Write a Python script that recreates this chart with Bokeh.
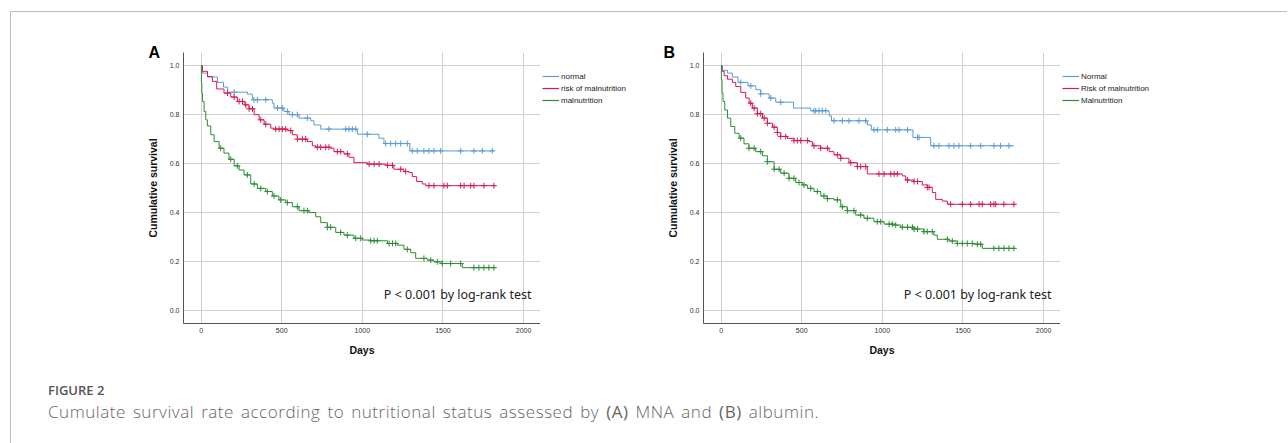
import numpy as np
from bokeh.plotting import figure
from bokeh.models import Legend, LegendItem, Label, Div, FixedTicker, PrintfTickFormatter, Title
from bokeh.layouts import row, column
from bokeh.embed import file_html
from bokeh.resources import INLINE

# ---------------- data ----------------
a_labels = ["normal", "risk of malnutrition", "malnutrition"]
b_labels = ["Normal", "Risk of malnutrition", "Malnutrition"]

# Panel A (MNA)
a_norm_t = [0, 8, 40, 102, 139, 164, 288, 318, 442, 452, 514, 545, 607, 680, 700, 742, 969, 1103, 1134, 1295, 1816]
a_norm_s = [1.0, 0.97, 0.954, 0.932, 0.913, 0.892, 0.884, 0.861, 0.847, 0.827, 0.813, 0.80, 0.786, 0.775, 0.758, 0.741, 0.72, 0.704, 0.682, 0.652, 0.652]
a_norm_c = [205, 328, 349, 401, 474, 504, 535, 566, 597, 659, 793, 897, 917, 938, 959, 1031, 1145, 1176, 1207, 1238,
            1279, 1310, 1341, 1382, 1413, 1444, 1486, 1610, 1692, 1744, 1806]

a_risk_t = [0, 8, 40, 70, 97, 142, 184, 225, 267, 298, 329, 360, 391, 432, 452, 535, 566, 597, 659, 690, 711, 804,
            824, 886, 917, 948, 1031, 1145, 1196, 1258, 1289, 1310, 1337, 1372, 1393, 1826]
a_risk_s = [1.0, 0.977, 0.956, 0.936, 0.905, 0.888, 0.872, 0.854, 0.84, 0.824, 0.80, 0.779, 0.761, 0.745, 0.741, 0.735,
            0.718, 0.70, 0.69, 0.673, 0.667, 0.663, 0.649, 0.64, 0.626, 0.604, 0.598, 0.593, 0.577, 0.568, 0.563, 0.547,
            0.527, 0.517, 0.51, 0.51]
a_risk_c = [164, 205, 236, 257, 277, 298, 319, 370, 401, 463, 484, 504, 525, 556, 597, 628, 649, 721, 742, 773, 793,
            845, 866, 907, 1042, 1073, 1104, 1156, 1187, 1238, 1269, 1413, 1444, 1506, 1527, 1610, 1631, 1672, 1692,
            1754, 1816]

a_mal_t = [0, 2, 4.5, 8.5, 19, 29, 39, 60, 81, 112, 142, 173, 205, 236, 267, 308, 349, 401, 442, 483, 525, 566, 607,
           669, 711, 742, 783, 835, 886, 948, 1000, 1052, 1156, 1218, 1258, 1300, 1331, 1403, 1444, 1496, 1620, 1826]
a_mal_s = [1.0, 0.929, 0.888, 0.854, 0.813, 0.779, 0.754, 0.718, 0.69, 0.663, 0.643, 0.618, 0.591, 0.574, 0.554, 0.517,
           0.499, 0.486, 0.468, 0.452, 0.441, 0.424, 0.408, 0.40, 0.383, 0.359, 0.34, 0.319, 0.308, 0.295, 0.288, 0.285,
           0.274, 0.267, 0.25, 0.236, 0.213, 0.206, 0.199, 0.192, 0.175, 0.175]
a_mal_c = [122, 184, 225, 287, 329, 370, 411, 452, 494, 535, 597, 638, 659, 783, 804, 866, 907, 959, 990, 1052, 1073,
           1093, 1166, 1187, 1207, 1279, 1382, 1424, 1465, 1496, 1548, 1610, 1692, 1723, 1754, 1785, 1816]

# Panel B (albumin)
b_norm_t = [0, 8, 40, 70, 105, 167, 215, 246, 298, 339, 449, 556, 670, 685, 907, 932, 1190, 1300, 1816]
b_norm_s = [1.0, 0.981, 0.97, 0.954, 0.932, 0.918, 0.902, 0.885, 0.868, 0.851, 0.827, 0.816, 0.795, 0.775, 0.758,
            0.738, 0.707, 0.673, 0.673]
b_norm_c = [122, 184, 246, 308, 370, 576, 587, 607, 628, 649, 700, 752, 793, 855, 897, 948, 969, 1031, 1083, 1104,
            1156, 1218, 1228, 1320, 1351, 1413, 1444, 1475, 1548, 1610, 1692, 1733, 1785]

b_risk_t = [0, 6, 19, 40, 70, 91, 122, 153, 174, 194, 225, 257, 287, 319, 349, 370, 411, 452, 545, 566, 618, 670, 700,
            742, 793, 845, 907, 1124, 1145, 1196, 1248, 1279, 1310, 1331, 1372, 1403, 1826]
b_risk_s = [1.0, 0.977, 0.959, 0.945, 0.932, 0.915, 0.891, 0.868, 0.847, 0.827, 0.804, 0.786, 0.765, 0.749, 0.727,
            0.711, 0.703, 0.694, 0.69, 0.673, 0.663, 0.649, 0.636, 0.622, 0.604, 0.588, 0.558, 0.55, 0.533, 0.527,
            0.513, 0.503, 0.482, 0.454, 0.447, 0.434, 0.434]
b_risk_c = [184, 205, 225, 246, 267, 287, 329, 349, 370, 401, 452, 473, 494, 535, 576, 618, 659, 721, 742, 804, 845,
            866, 897, 979, 1011, 1052, 1073, 1093, 1156, 1197, 1218, 1279, 1290, 1424, 1496, 1548, 1600, 1620, 1672,
            1692, 1703, 1754, 1816]

b_mal_t = [0, 2, 6, 12, 23, 40, 60, 85, 112, 142, 173, 215, 257, 287, 329, 370, 421, 463, 504, 535, 576, 618, 659, 700,
           742, 783, 835, 886, 948, 1011, 1073, 1114, 1197, 1258, 1320, 1341, 1413, 1465, 1569, 1620, 1826]
b_mal_s = [1.0, 0.943, 0.888, 0.854, 0.819, 0.786, 0.752, 0.724, 0.704, 0.681, 0.663, 0.649, 0.632, 0.608, 0.577,
           0.561, 0.54, 0.523, 0.513, 0.499, 0.486, 0.468, 0.457, 0.452, 0.424, 0.408, 0.39, 0.377, 0.363, 0.353, 0.349,
           0.34, 0.333, 0.322, 0.308, 0.291, 0.284, 0.274, 0.271, 0.254, 0.254]
b_mal_c = [122, 173, 205, 246, 287, 329, 360, 391, 422, 452, 483, 514, 556, 597, 638, 659, 721, 752, 783, 824, 866,
           907, 969, 990, 1042, 1062, 1083, 1124, 1156, 1187, 1197, 1218, 1258, 1279, 1310, 1403, 1434, 1465, 1496,
           1527, 1558, 1589, 1610, 1692, 1723, 1754, 1785, 1816]

x_ticks = [0, 500, 1000, 1500, 2000]
y_ticks = [0.0, 0.2, 0.4, 0.6, 0.8, 1.0]
p_text = "P < 0.001 by log-rank test"
colors = ["#5b9bd5", "#d41c4e", "#2e8b37"]

FONT = "Liberation Sans"
H = 353


def censor_y(t, s, c):
    t = np.asarray(t, float)
    s = np.asarray(s, float)
    idx = np.searchsorted(t, np.asarray(c, float), side="right") - 1
    return s[idx]


def make_panel(letter, curves, min_left, letter_dx):
    p = figure(width=min_left + 357, height=H, x_range=(-109, 2105), y_range=(-0.053, 1.054),
               output_backend="svg", toolbar_location=None,
               min_border_left=min_left, min_border_right=0,
               min_border_top=40, min_border_bottom=42)
    p.outline_line_color = None
    p.background_fill_color = "white"
    p.border_fill_color = "white"
    for g in (p.xgrid, p.ygrid):
        g.grid_line_color = "#cfcfcf"
        g.grid_line_width = 1
    p.xgrid.ticker = FixedTicker(ticks=x_ticks)
    p.ygrid.ticker = FixedTicker(ticks=y_ticks)
    p.xaxis.ticker = FixedTicker(ticks=x_ticks)
    p.yaxis.ticker = FixedTicker(ticks=y_ticks)
    p.yaxis.formatter = PrintfTickFormatter(format="%.1f")
    for ax in (p.xaxis, p.yaxis):
        ax.axis_line_color = "#555555"
        ax.axis_line_width = 1
        ax.major_tick_line_color = None
        ax.minor_tick_line_color = None
        ax.major_tick_out = 0
        ax.major_tick_in = 0
        ax.major_label_text_font = FONT
        ax.major_label_text_font_size = "7px"
        ax.major_label_text_color = "#333333"
        ax.axis_label_text_font = FONT
        ax.axis_label_text_font_size = "10.5px"
        ax.axis_label_text_font_style = "bold"
        ax.axis_label_text_color = "#111111"
    p.xaxis.axis_label = "Days"
    p.yaxis.axis_label = "Cumulative survival"
    p.xaxis.major_label_standoff = 4
    p.yaxis.major_label_standoff = 4
    p.xaxis.axis_label_standoff = 8
    p.yaxis.axis_label_standoff = 8

    for (t, s, c), col in zip(curves, colors):
        p.step(t, s, mode="after", line_color=col, line_width=1)
        p.scatter(c, censor_y(t, s, c), marker="cross", size=6, line_color=col, line_width=1)

    ttl = Title(text=letter, align="left", offset=letter_dx, standoff=-16,
                text_font=FONT, text_font_size="16px", text_font_style="bold", text_color="#000000")
    p.add_layout(ttl, "above")
    p.add_layout(Label(x=2049, y=0.067, text=p_text, text_align="right", text_baseline="middle",
                       text_font="Noto Sans", text_font_size="12.5px", text_color="#222222"))
    return p


def make_legend(labels, curves, width):
    # legend-only figure: the series' own step lines, kept outside its visible range
    lg = figure(width=width, height=H, x_range=(5000, 5001), y_range=(0, 1),
                output_backend="svg", toolbar_location=None,
                x_axis_location=None, y_axis_location=None,
                min_border_left=0, min_border_right=0, min_border_top=0, min_border_bottom=0)
    lg.grid.visible = False
    lg.outline_line_color = None
    lg.background_fill_color = "white"
    lg.border_fill_color = "white"
    items = []
    for (t, s, c), col, lab in zip(curves, colors, labels):
        r = lg.step(t, s, mode="after", line_color=col, line_width=1.2)
        items.append(LegendItem(label=lab, renderers=[r]))
    leg = Legend(items=items, location=(2, 217), padding=0, margin=0, spacing=0,
                 label_height=12, glyph_height=12, glyph_width=17, label_standoff=2,
                 label_text_font=FONT, label_text_font_size="8px", label_text_color="#222222",
                 border_line_color=None, background_fill_alpha=0)
    lg.add_layout(leg)
    return lg


curves_a = [(a_norm_t, a_norm_s, a_norm_c), (a_risk_t, a_risk_s, a_risk_c), (a_mal_t, a_mal_s, a_mal_c)]
curves_b = [(b_norm_t, b_norm_s, b_norm_c), (b_risk_t, b_risk_s, b_risk_c), (b_mal_t, b_mal_s, b_mal_c)]

pA = make_panel("A", curves_a, 172, -35)
lA = make_legend(a_labels, curves_a, 120)
pB = make_panel("B", curves_b, 43, -40)
lB = make_legend(b_labels, curves_b, 120)

caption_html = (
    '<div style="padding:12px 0 0 32px;font-family:\'Open Sans\';">'
    '<div style="font-size:13px;font-weight:600;line-height:16px;color:#555555;">FIGURE 2</div>'
    '<div style="font-size:17px;font-weight:300;line-height:20px;margin-top:4px;color:#666666;'
    'white-space:nowrap;letter-spacing:0.55px;word-spacing:2px;">'
    'Cumulate survival rate according to nutritional status assessed by <b>(A)</b> MNA and <b>(B)</b> albumin.'
    '</div></div>'
)
cap = Div(text=caption_html, width=1277, height=77)

layout = column(row(pA, lA, pB, lB), cap, width=1277,
                styles={"border-top": "1px solid #bdbdbd", "border-left": "1px solid #bdbdbd"},
                margin=(11, 0, 0, 10))

open("out.html", "w").write(file_html(layout, INLINE))
